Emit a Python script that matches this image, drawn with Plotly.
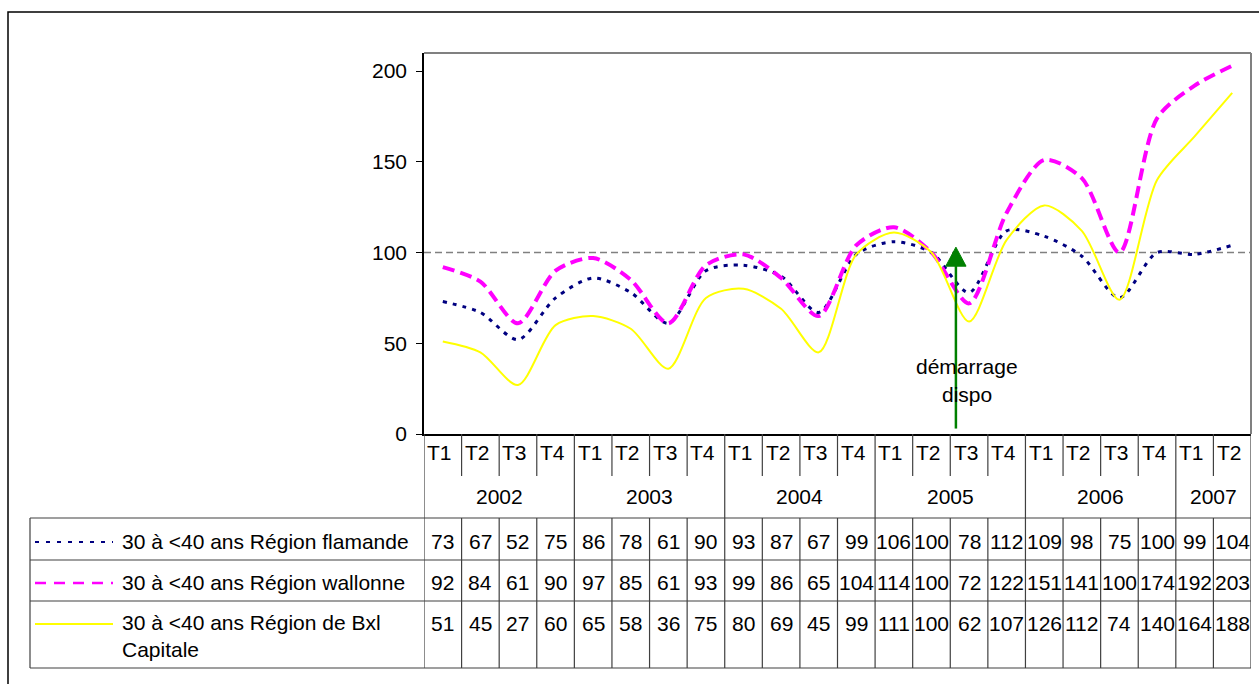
import plotly.graph_objects as go

# ---------------- data ----------------
quarters = ["T1", "T2", "T3", "T4", "T1", "T2", "T3", "T4", "T1", "T2", "T3", "T4",
            "T1", "T2", "T3", "T4", "T1", "T2", "T3", "T4", "T1", "T2"]
years = ["2002"] * 4 + ["2003"] * 4 + ["2004"] * 4 + ["2005"] * 4 + ["2006"] * 4 + ["2007"] * 2

flamande = [73, 67, 52, 75, 86, 78, 61, 90, 93, 87, 67, 99, 106, 100, 78, 112, 109, 98, 75, 100, 99, 104]
wallonne = [92, 84, 61, 90, 97, 85, 61, 93, 99, 86, 65, 104, 114, 100, 72, 122, 151, 141, 100, 174, 192, 203]
bxl = [51, 45, 27, 60, 65, 58, 36, 75, 80, 69, 45, 99, 111, 100, 62, 107, 126, 112, 74, 140, 164, 188]

series_names = ["30 à <40 ans Région flamande",
                "30 à <40 ans Région wallonne",
                "30 à <40 ans Région de Bxl<br>Capitale"]
reference_level = 100
annotation_text = ["démarrage", "dispo"]

# ---------------- layout helpers (design pixels -> paper) ----------------
W, H = 1259, 684          # design grid
H_FIG = 695               # compensates the vertical squeeze seen in the photograph
def px(x):
    return x / W
def py(y):
    return 1 - y / H

FONT = "Liberation Sans, Arial, sans-serif"
FS = 21
n = len(quarters)
xs = list(range(n))

plot_left, plot_right, plot_top, plot_bottom = 424, 1251, 53, 434
row_t_bottom = 476
row_year_bottom = 518
row_lines = [518, 560, 601, 668]
table_left = 30

styles = [
    dict(color="#000080", width=3, dash="4px,6px"),
    dict(color="#FF00FF", width=4, dash="12px,6px"),
    dict(color="#FFFF00", width=2, dash="solid"),
]
legend_styles = [
    dict(color="#000080", width=2, dash="4px,7px"),
    dict(color="#FF00FF", width=2.5, dash="11px,8px"),
    dict(color="#FFFF00", width=2, dash="solid"),
]
all_series = [flamande, wallonne, bxl]

fig = go.Figure()
for vals, st, nm in zip(all_series, styles, series_names):
    fig.add_trace(go.Scatter(x=xs, y=vals, mode="lines", name=nm.replace("<br>", " "),
                             line=dict(color=st["color"], width=st["width"], dash=st["dash"],
                                       shape="spline", smoothing=0.8),
                             showlegend=False, hoverinfo="skip"))

shapes = []
annotations = []
grid_col = "#404040"
tfont = dict(family=FONT, size=FS, color="#000")

# reference line at 100
shapes.append(dict(type="line", xref="x domain", yref="y", x0=0, x1=1,
                   y0=reference_level, y1=reference_level,
                   line=dict(color="#808080", width=1.5, dash="7px,4px"), layer="below"))

# plot frame (top + right gray)
shapes.append(dict(type="line", xref="paper", yref="paper", x0=px(plot_left), x1=px(plot_right),
                   y0=py(plot_top), y1=py(plot_top), line=dict(color="#808080", width=2)))
shapes.append(dict(type="line", xref="paper", yref="paper", x0=px(plot_right), x1=px(plot_right),
                   y0=py(plot_top), y1=py(plot_bottom), line=dict(color="#808080", width=2)))

# outer chart border
shapes.append(dict(type="rect", xref="paper", yref="paper", x0=px(8), x1=px(1265),
                   y0=py(12), y1=py(720), line=dict(color="#000000", width=1.5)))

# table vertical lines
year_starts = [i for i in range(1, n) if years[i] != years[i - 1]]
for i in range(n + 1):
    xb = i - 0.5
    if i == 0 or i == n or i in year_starts:
        shapes.append(dict(type="line", xref="x", yref="paper", x0=xb, x1=xb,
                           y0=py(plot_bottom), y1=py(row_lines[-1]), line=dict(color=grid_col, width=1.2)))
    else:
        shapes.append(dict(type="line", xref="x", yref="paper", x0=xb, x1=xb,
                           y0=py(plot_bottom), y1=py(row_t_bottom), line=dict(color=grid_col, width=1.2)))
        shapes.append(dict(type="line", xref="x", yref="paper", x0=xb, x1=xb,
                           y0=py(row_year_bottom), y1=py(row_lines[-1]), line=dict(color=grid_col, width=1.2)))
# table horizontal lines
for yl in row_lines:
    shapes.append(dict(type="line", xref="paper", yref="paper", x0=px(table_left), x1=px(plot_right),
                       y0=py(yl), y1=py(yl), line=dict(color=grid_col, width=1.2)))
shapes.append(dict(type="line", xref="paper", yref="paper", x0=px(table_left), x1=px(table_left),
                   y0=py(row_lines[0]), y1=py(row_lines[-1]), line=dict(color=grid_col, width=1.2)))

# quarter labels
for i, q in enumerate(quarters):
    annotations.append(dict(x=i, y=py(453), xref="x", yref="paper", text=q, showarrow=False,
                            xanchor="center", yanchor="middle", xshift=-3, font=tfont))
# year labels
groups = []
for i, yv in enumerate(years):
    if groups and groups[-1][0] == yv:
        groups[-1][2] = i
    else:
        groups.append([yv, i, i])
for yv, a, b in groups:
    annotations.append(dict(x=(a + b) / 2, y=py(496), xref="x", yref="paper", text=yv, showarrow=False,
                            xanchor="center", yanchor="middle", font=tfont))

# data rows
row_text_y = [541, 582, 623]
for r, (vals, nm, lst) in enumerate(zip(all_series, series_names, legend_styles)):
    for i, v in enumerate(vals):
        annotations.append(dict(x=i, y=py(row_text_y[r]), xref="x", yref="paper", text=str(v),
                                showarrow=False, xanchor="center", yanchor="middle", font=tfont))
    # legend label
    if "<br>" in nm:
        annotations.append(dict(x=px(120), y=py(row_lines[r] + 8), xref="paper", yref="paper", text=nm,
                                showarrow=False, xanchor="left", yanchor="top", align="left", font=tfont))
    else:
        annotations.append(dict(x=px(120), y=py(row_text_y[r]), xref="paper", yref="paper", text=nm,
                                showarrow=False, xanchor="left", yanchor="middle", font=tfont))
    shapes.append(dict(type="line", xref="paper", yref="paper", x0=px(35), x1=px(113),
                       y0=py(row_text_y[r] + 1), y1=py(row_text_y[r] + 1),
                       line=dict(color=lst["color"], width=lst["width"], dash=lst["dash"])))

# green arrow (annotation of the start of the measure)
arrow_x = 13.65
shapes.append(dict(type="line", xref="x", yref="y", x0=arrow_x, x1=arrow_x, y0=3, y1=93,
                   line=dict(color="#008000", width=2.5)))
shapes.append(dict(type="path", xref="x", yref="y",
                   path=f"M {arrow_x - 0.27},92.5 L {arrow_x + 0.27},92.5 L {arrow_x},103 Z",
                   fillcolor="#008000", line=dict(color="#008000", width=1)))
annotations.append(dict(x=13.95, y=37, xref="x", yref="y", text=annotation_text[0], showarrow=False,
                        xanchor="center", yanchor="middle", font=tfont))
annotations.append(dict(x=13.95, y=21.5, xref="x", yref="y", text=annotation_text[1], showarrow=False,
                        xanchor="center", yanchor="middle", font=tfont))

fig.update_layout(
    width=W, height=H_FIG,
    margin=dict(l=0, r=0, t=0, b=0),
    paper_bgcolor="#FFFFFF", plot_bgcolor="#FFFFFF",
    shapes=shapes, annotations=annotations,
    showlegend=False,
    xaxis=dict(domain=[px(plot_left), px(plot_right)], range=[-0.5, n - 0.5],
               showticklabels=False, ticks="", showgrid=False, zeroline=False,
               showline=True, linecolor="#000000", linewidth=1.5, fixedrange=True),
    yaxis=dict(domain=[py(plot_bottom), py(plot_top)], range=[0, 210],
               tickvals=[0, 50, 100, 150, 200], ticks="outside", ticklen=6, tickcolor="#000",
               ticklabelstandoff=5,
               showgrid=False, zeroline=False, showline=True, linecolor="#000000", linewidth=1.5,
               tickfont=tfont, fixedrange=True),
)

fig.write_html("out.html", config={"displayModeBar": False},
               post_script="document.body.style.margin='0';document.body.style.overflow='hidden';")
